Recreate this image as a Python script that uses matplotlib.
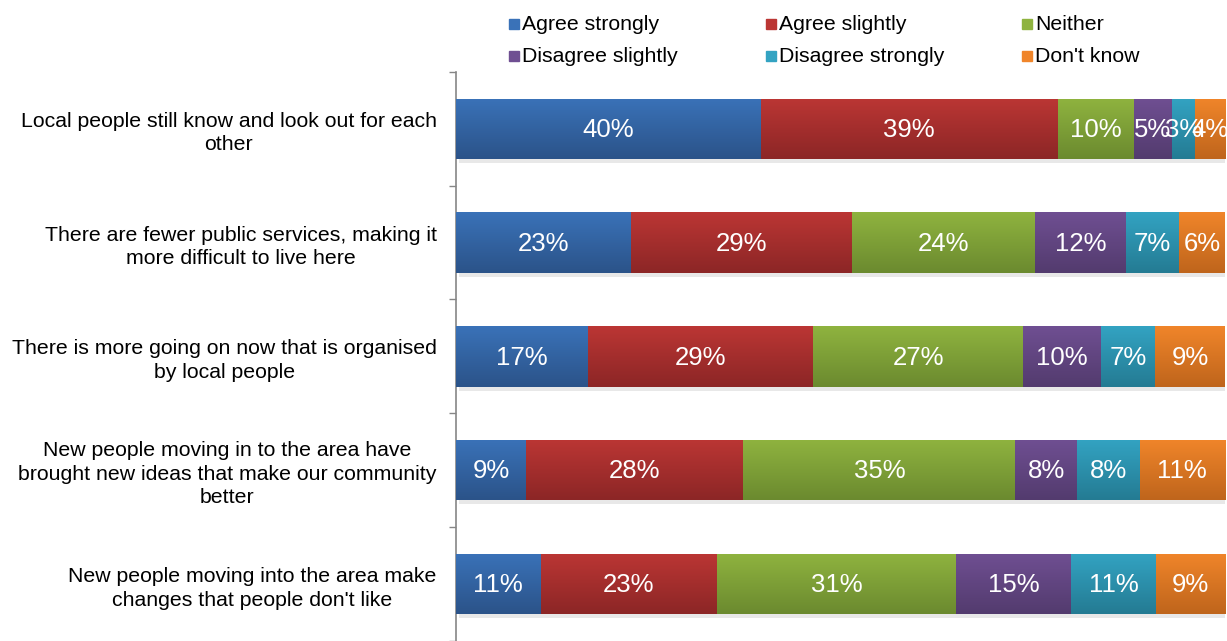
import matplotlib
matplotlib.use("Agg")
import matplotlib.pyplot as plt
import matplotlib.colors as mcolors
import numpy as np

plt.rcParams["font.family"] = ["Liberation Sans", "DejaVu Sans"]

statements = [
    "Local people still know and look out for each\nother",
    "There are fewer public services, making it\nmore difficult to live here",
    "There is more going on now that is organised\nby local people",
    "New people moving in to the area have\nbrought new ideas that make our community\nbetter",
    "New people moving into the area make\nchanges that people don't like",
]
responses = ["Agree strongly", "Agree slightly", "Neither",
             "Disagree slightly", "Disagree strongly", "Don't know"]

agree_strongly = [40, 23, 17, 9, 11]
agree_slightly = [39, 29, 29, 28, 23]
neither = [10, 24, 27, 35, 31]
disagree_slightly = [5, 12, 10, 8, 15]
disagree_strongly = [3, 7, 7, 8, 11]
dont_know = [4, 6, 9, 11, 9]

# (top, bottom) shades for the vertical gradient on each segment
shades = [
    ("#3a72b8", "#2b5389"),
    ("#bb3634", "#8c2626"),
    ("#8fb33f", "#6b8a2f"),
    ("#6f4f92", "#533b6e"),
    ("#33a3c2", "#247b93"),
    ("#f0852a", "#bf651c"),
]

series = np.array([agree_strongly, agree_slightly, neither,
                   disagree_slightly, disagree_strongly, dont_know], float)
# 100% stacked: each row scaled to its own total
shares = series / series.sum(axis=0) * 100
lefts = np.vstack([np.zeros(len(statements)), np.cumsum(shares, axis=0)[:-1]])

fig = plt.figure(figsize=(12.27, 6.41), dpi=100)
ax = fig.add_axes([0.3716, 0.0, 0.6268, 0.888])

y = np.arange(len(statements))
h = 0.53

# soft drop shadow under each bar
ax.barh(y + 0.035, 100, left=0.4, height=h, color="#bfbfbf", alpha=0.35,
        linewidth=0, zorder=1)

for i, (top, bot) in enumerate(shades):
    bars = ax.barh(y, shares[i], left=lefts[i], height=h, color=top,
                   linewidth=0, zorder=2)
    grad = np.array([mcolors.to_rgb(top), mcolors.to_rgb(bot)])
    ramp = np.linspace(0, 1, 64)[:, None]
    img = (grad[0] * (1 - ramp) + grad[1] * ramp)[:, None, :]
    for j, bar in enumerate(bars):
        x0 = lefts[i][j]
        im = ax.imshow(img, extent=(x0, x0 + shares[i][j], y[j] + h / 2, y[j] - h / 2),
                       origin="upper", aspect="auto", zorder=3, interpolation="bilinear")
        im.set_clip_path(bar)
        ax.text(x0 + shares[i][j] / 2, y[j] + 0.01, f"{int(series[i][j])}%",
                ha="center", va="center", color="white",
                fontsize=18.5, zorder=4)

ax.set_xlim(0, 100)
ax.set_ylim(len(statements) - 0.5, -0.5)

ax.set_yticks(y)
ax.set_yticklabels(statements, fontsize=15.3, multialignment="center",
                   linespacing=1.3)
ax.set_yticks(np.arange(len(statements) + 1) - 0.5, minor=True)
ax.tick_params(axis="y", which="major", length=0, pad=14)
ax.tick_params(axis="y", which="minor", length=5, color="#868686", width=1)
ax.set_xticks([])
for side in ["top", "right", "bottom"]:
    ax.spines[side].set_visible(False)
ax.spines["left"].set_color("#868686")
ax.spines["left"].set_linewidth(1.2)

# legend laid out row by row, three columns
col_x = [0.4145, 0.6245, 0.833]
row_y = [0.962, 0.912]
for k, (name, (top, bot)) in enumerate(zip(responses, shades)):
    cx = col_x[k % 3]
    cy = row_y[k // 3]
    sq = 10 / 1227
    fig.patches.append(plt.Rectangle((cx, cy - 5 / 641), sq, 10 / 641,
                                     transform=fig.transFigure, color=top))
    fig.text(cx + sq + 3 / 1227, cy, name, ha="left", va="center",
             fontsize=15.3)

fig.savefig("out.png", dpi=100)
